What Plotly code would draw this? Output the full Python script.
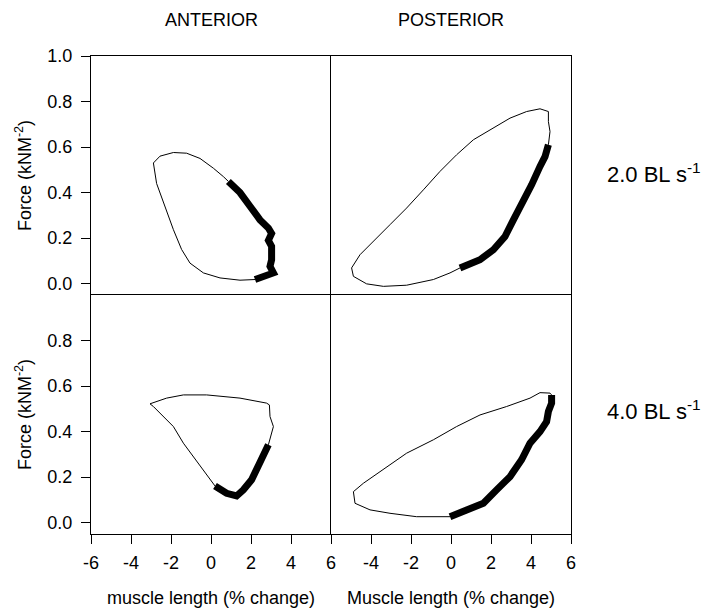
import plotly.graph_objects as go
from plotly.subplots import make_subplots

# ---- Data (muscle length % change, force kNM^-2) ----
# Anterior, 2.0 BL/s
ant2_thin_x = [2.2, 1.45, 0.45, -0.38, -1.05, -1.47, -1.88, -2.3, -2.72, -2.88, -2.55, -1.88, -1.22, -0.55, 0.12, 0.62, 0.87]
ant2_thin_y = [0.018, 0.015, 0.025, 0.047, 0.09, 0.15, 0.237, 0.34, 0.44, 0.53, 0.56, 0.576, 0.573, 0.55, 0.507, 0.47, 0.449]
ant2_thick_x = [0.87, 1.45, 1.95, 2.45, 2.87, 3.03, 2.87, 3.03, 3.03, 2.95, 3.12, 2.7, 2.2]
ant2_thick_y = [0.449, 0.40, 0.34, 0.28, 0.244, 0.22, 0.19, 0.164, 0.105, 0.076, 0.047, 0.03, 0.018]

# Posterior, 2.0 BL/s
post2_thick_x = [0.45, 1.45, 2.12, 2.7, 3.12, 3.62, 4.03, 4.45, 4.7, 4.87]
post2_thick_y = [0.069, 0.105, 0.149, 0.207, 0.28, 0.36, 0.434, 0.515, 0.558, 0.61]
post2_thin_x = [4.87, 4.95, 4.87, 4.87, 4.45, 3.78, 2.95, 1.95, 1.12, 0.28, -0.55, -1.38, -2.22, -3.05, -3.88, -4.55, -4.97, -4.88, -4.22, -3.38, -2.22, -0.88, -0.05, 0.45]
post2_thin_y = [0.61, 0.668, 0.712, 0.756, 0.768, 0.756, 0.727, 0.675, 0.632, 0.566, 0.493, 0.412, 0.332, 0.259, 0.186, 0.127, 0.069, 0.032, -0.001, -0.012, -0.007, 0.018, 0.047, 0.069]

# Anterior, 4.0 BL/s
ant4_thick_x = [0.2, 0.78, 1.28, 1.62, 2.03, 2.37, 2.62, 2.87]
ant4_thick_y = [0.161, 0.129, 0.117, 0.144, 0.188, 0.246, 0.298, 0.342]
ant4_thin_x = [2.87, 3.03, 3.12, 2.95, 2.92, 2.78, 1.45, -0.22, -1.38, -2.22, -3.05, -2.88, -2.55, -1.88, -1.38, -0.88, -0.38, 0.2]
ant4_thin_y = [0.342, 0.393, 0.422, 0.466, 0.517, 0.525, 0.547, 0.561, 0.561, 0.547, 0.522, 0.51, 0.481, 0.422, 0.349, 0.29, 0.232, 0.161]

# Posterior, 4.0 BL/s
post4_thick_x = [-0.05, 0.78, 1.62, 2.28, 2.95, 3.53, 3.95, 4.45, 4.78, 4.87, 5.03, 5.03]
post4_thick_y = [0.026, 0.053, 0.085, 0.144, 0.202, 0.276, 0.349, 0.40, 0.444, 0.488, 0.525, 0.561]
post4_thin_x = [5.03, 4.95, 4.45, 3.95, 2.78, 1.45, 0.28, -0.88, -2.22, -3.38, -4.38, -4.88, -4.8, -4.05, -3.05, -1.72, -0.72, -0.05]
post4_thin_y = [0.561, 0.569, 0.571, 0.547, 0.51, 0.473, 0.422, 0.364, 0.305, 0.232, 0.173, 0.136, 0.085, 0.056, 0.041, 0.026, 0.026, 0.026]

x_ticks_left = [-6, -4, -2, 0, 2, 4, 6]
x_ticks_right = [-4, -2, 0, 2, 4, 6]
y_ticks_top = [0.0, 0.2, 0.4, 0.6, 0.8, 1.0]
y_ticks_bottom = [0.0, 0.2, 0.4, 0.6, 0.8]

FONT = "Liberation Sans, Arial, sans-serif"

fig = make_subplots(rows=2, cols=2, horizontal_spacing=0, vertical_spacing=0)

panels = [
    (1, 1, ant2_thin_x, ant2_thin_y, ant2_thick_x, ant2_thick_y),
    (1, 2, post2_thin_x, post2_thin_y, post2_thick_x, post2_thick_y),
    (2, 1, ant4_thin_x, ant4_thin_y, ant4_thick_x, ant4_thick_y),
    (2, 2, post4_thin_x, post4_thin_y, post4_thick_x, post4_thick_y),
]
for r, c, tx, ty, kx, ky in panels:
    fig.add_trace(go.Scatter(x=tx, y=ty, mode="lines", line=dict(color="black", width=1),
                             showlegend=False, hoverinfo="skip"), row=r, col=c)
    fig.add_trace(go.Scatter(x=kx, y=ky, mode="lines", line=dict(color="black", width=7),
                             showlegend=False, hoverinfo="skip"), row=r, col=c)

common = dict(showline=True, linecolor="black", linewidth=1, automargin=False,
              showgrid=False, zeroline=False, tickcolor="black", ticklen=9,
              tickfont=dict(family=FONT, size=18, color="black"))

for r in (1, 2):
    for c in (1, 2):
        xa = dict(common, range=[-6, 6])
        if r == 2:
            vals = x_ticks_left if c == 1 else x_ticks_right
            xa.update(ticks="outside", tickvals=vals, ticktext=[str(v) for v in vals],
                      showticklabels=True, mirror=True, ticklabelstandoff=3,
                      title=dict(text="muscle length (% change)" if c == 1 else "Muscle length (% change)",
                                 font=dict(family=FONT, size=18, color="black"), standoff=19))
        else:
            xa.update(ticks="", showticklabels=False, side="top", mirror=False)
        fig.update_xaxes(xa, row=r, col=c)

        ya = dict(common, range=[-0.05, 1.0])
        if c == 1:
            vals = y_ticks_top if r == 1 else y_ticks_bottom
            ya.update(ticks="outside", tickvals=vals, ticktext=[f"{v:.1f}" for v in vals],
                      showticklabels=True, mirror=False, ticklabelstandoff=5,
                      title=dict(text="Force (kNM<sup>-2</sup>)",
                                 font=dict(family=FONT, size=18, color="black"), standoff=11))
        else:
            ya.update(ticks="", showticklabels=False, mirror=True)
        fig.update_yaxes(ya, row=r, col=c)

for txt, xx in [("ANTERIOR", 0.25), ("POSTERIOR", 0.75)]:
    fig.add_annotation(xref="paper", yref="paper", x=xx, y=1.075, text=txt, showarrow=False,
                       xanchor="center", yanchor="middle",
                       font=dict(family=FONT, size=18, color="black"))
for txt, yy in [("2.0 BL s<sup>-1</sup>", 0.755), ("4.0 BL s<sup>-1</sup>", 0.259)]:
    fig.add_annotation(xref="paper", yref="paper", x=1.07, y=yy, text=txt, showarrow=False,
                       xanchor="left", yanchor="middle",
                       font=dict(family=FONT, size=22, color="black"))

fig.update_layout(width=706, height=610, margin=dict(l=91, r=135, t=56, b=76),
                  paper_bgcolor="white", plot_bgcolor="white",
                  font=dict(family=FONT, size=18, color="black"))

fig.write_html("out.html")
